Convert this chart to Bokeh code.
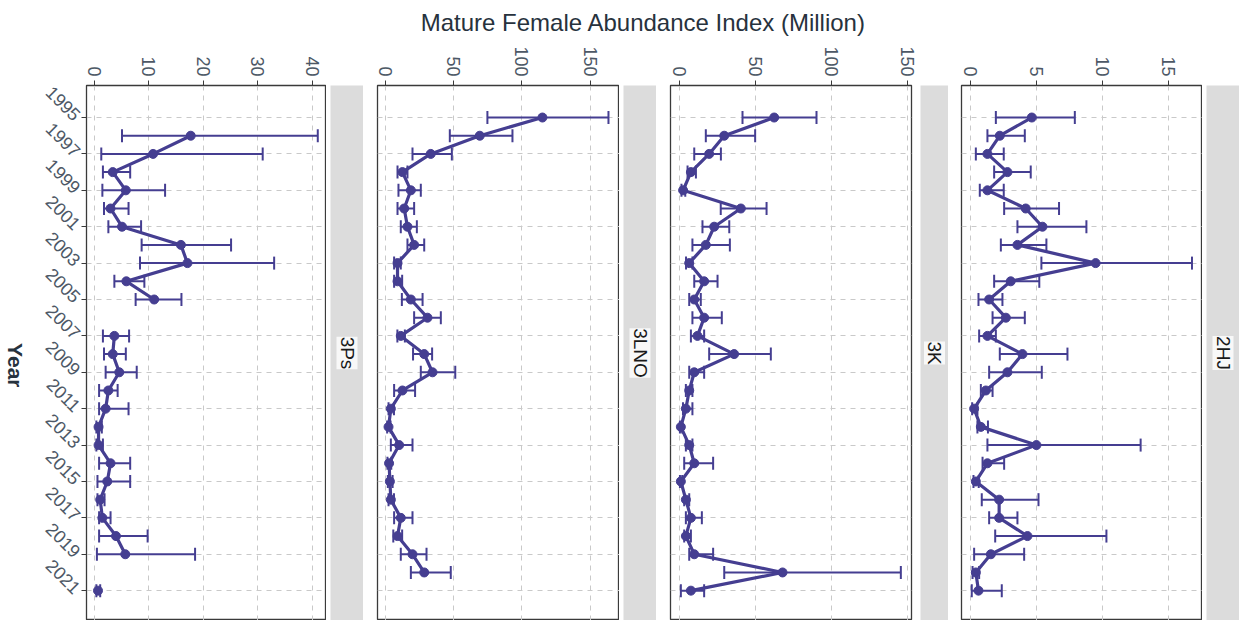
from math import pi, nan, isnan
from bokeh.plotting import figure
from bokeh.models import Range1d, FixedTicker, Whisker, TeeHead, ColumnDataSource, Label
from bokeh.layouts import row, column
from bokeh.embed import file_html
from bokeh.resources import INLINE

years = list(range(1995, 2022))
year_ticks = list(range(1995, 2022, 2))

# 3Ps
ps_val = [nan, 17.7, 10.8, 3.4, 5.8, 3.0, 5.1, 15.9, 17.1, 5.9, 11.0, nan, 3.7, 3.4, 4.6, 2.6, 2.1, 0.8, 0.8, 3.0, 2.4, 1.1, 1.5, 4.0, 5.7, nan, 0.7]
ps_lo = [nan, 5.1, 1.3, 1.6, 1.5, 1.8, 2.6, 8.7, 8.4, 3.7, 7.6, nan, 1.6, 1.8, 2.1, 0.9, 0.9, 0.4, 0.4, 0.9, 0.6, 0.6, 0.9, 0.9, 0.5, nan, 0.4]
ps_hi = [nan, 41.0, 30.9, 6.6, 13.0, 6.3, 8.6, 25.1, 33.0, 9.2, 16.0, nan, 6.4, 5.8, 7.8, 4.3, 6.3, 1.4, 1.6, 6.6, 6.6, 1.9, 3.0, 9.8, 18.5, nan, 1.1]

# 3LNO
lno_val = [115, 69, 33, 12.2, 18.4, 13.5, 15.9, 20.8, 8.6, 8.6, 18.4, 30.6, 11, 28.2, 34.3, 12.2, 3.7, 2.0, 9.8, 2.4, 3.0, 3.7, 11, 8.6, 19.6, 28.2, nan]
lno_lo = [74.6, 47, 19.6, 8.6, 9.3, 8.6, 11, 15.9, 6.1, 6.1, 11.8, 20.8, 8.5, 20.0, 25.7, 6.1, 2.0, 1.0, 3.7, 1.2, 1.5, 2.0, 6.1, 5.5, 11, 18.4, nan]
lno_hi = [163.5, 93, 48.5, 15.9, 25.7, 20.8, 22.8, 28.2, 11, 12, 27, 40.4, 14, 34.0, 51, 21.5, 6.0, 3.5, 19.6, 4.0, 5.0, 6.0, 19.6, 12, 29.9, 47.7, nan]

# 3K
k_val = [62.4, 29.6, 19.7, 7.7, 2.6, 40.5, 23, 17.5, 6.6, 16.4, 9.9, 16.4, 12, 36.1, 9.9, 6.6, 4.4, 1.1, 6.6, 9.9, 1.1, 4.4, 7.7, 4.4, 9.9, 67.9, 7.7]
k_lo = [41.6, 17.5, 9.9, 5.5, 1.5, 27.3, 15.3, 8.7, 4.5, 9.9, 6.6, 8.7, 7.7, 19.7, 6.6, 4.4, 2.5, 0.5, 4.4, 3.3, 0.5, 3.3, 4.4, 3.3, 6.6, 29.6, 1.1]
k_hi = [90.2, 49.9, 27.4, 11, 4.0, 57.4, 32.9, 33.3, 8.7, 25.2, 14.2, 28, 16.4, 60.2, 16.4, 8.7, 8.7, 2.0, 8.7, 22.3, 2.0, 6.6, 14.9, 7.7, 22.3, 145.6, 16.4]

# 2HJ
hj_val = [4.63, 2.2, 1.26, 2.78, 1.26, 4.17, 5.44, 3.54, 9.48, 3.03, 1.39, 2.66, 1.26, 3.92, 2.78, 1.14, 0.25, 0.76, 4.98, 1.26, 0.38, 2.15, 2.15, 4.3, 1.52, 0.38, 0.58]
hj_lo = [1.9, 1.26, 0.38, 1.77, 0.68, 2.53, 3.54, 2.28, 5.36, 1.77, 0.58, 1.65, 0.63, 2.2, 1.39, 0.76, 0.1, 0.5, 1.26, 0.89, 0.2, 0.83, 1.39, 1.85, 0.25, 0.13, 0.07]
hj_hi = [7.9, 4.1, 2.5, 4.55, 2.5, 6.7, 8.78, 5.74, 16.8, 5.2, 2.4, 4.1, 1.9, 7.34, 5.39, 1.65, 0.5, 1.3, 12.9, 2.53, 0.6, 5.14, 3.54, 10.3, 4.05, 0.63, 2.35]

panel_names = ["3Ps", "3LNO", "3K", "2HJ"]
ps_ticks = [0, 10, 20, 30, 40]
lno_ticks = [0, 50, 100, 150]
k_ticks = [0, 50, 100, 150]
hj_ticks = [0, 5, 10, 15]

LINE = "#453e91"
TICK_COLOR = "#4d5866"
TITLE_COLOR = "#27323d"
FONT = "Liberation Sans"
FRAME_H = 535
TOP = 42
TOTAL_W = 1237


def base_fig(frame_w, ml, mr=0, **kw):
    return figure(frame_width=frame_w, frame_height=FRAME_H,
                  output_backend="svg", toolbar_location=None,
                  min_border_left=ml, min_border_right=mr, min_border_top=TOP, min_border_bottom=0,
                  border_fill_color="white", **kw)


def make_panel(vals, lo, hi, xr, ticks, frame_w, ml, mr=0, first=False):
    p = base_fig(frame_w, ml, mr,
                 x_range=Range1d(*xr), y_range=Range1d(2022.64, 1993.24),
                 x_axis_location="above", y_axis_location="left" if first else None,
                 background_fill_color="white",
                 outline_line_color="#3a3a3a", outline_line_width=1.3)
    xa = p.xaxis[0]
    xa.ticker = FixedTicker(ticks=ticks)
    xa.major_label_orientation = -pi / 2
    xa.major_label_text_font = FONT
    xa.major_label_text_font_size = "18px"
    xa.major_label_text_color = TICK_COLOR
    xa.major_label_standoff = 4
    xa.major_tick_out = 5
    xa.major_tick_in = 0
    xa.minor_tick_out = 0
    xa.minor_tick_in = 0
    xa.axis_line_color = "#3a3a3a"
    xa.major_tick_line_color = "#3a3a3a"
    if first:
        ya = p.yaxis[0]
        ya.ticker = FixedTicker(ticks=year_ticks)
        ya.major_label_orientation = -pi / 4
        ya.major_label_text_font = FONT
        ya.major_label_text_font_size = "18px"
        ya.major_label_text_color = TICK_COLOR
        ya.major_label_standoff = 4
        ya.major_tick_out = 5
        ya.major_tick_in = 0
        ya.minor_tick_out = 0
        ya.minor_tick_in = 0
        ya.axis_line_color = "#3a3a3a"
        ya.major_tick_line_color = "#3a3a3a"
    p.xgrid.ticker = FixedTicker(ticks=ticks)
    p.ygrid.ticker = FixedTicker(ticks=year_ticks)
    for g in (p.xgrid, p.ygrid):
        g.grid_line_color = "#c9c9c9"
        g.grid_line_dash = "5 5"
        g.grid_line_width = 1

    yy = [y for y, v in zip(years, vals) if not isnan(v)]
    vv = [v for v in vals if not isnan(v)]
    ll = [a for a, v in zip(lo, vals) if not isnan(v)]
    hh = [b for b, v in zip(hi, vals) if not isnan(v)]
    src = ColumnDataSource(dict(year=yy, val=vv, lo=ll, hi=hh))
    w = Whisker(base="year", lower="lo", upper="hi", source=src, dimension="width",
                line_color=LINE, line_width=2,
                upper_head=TeeHead(size=13, line_color=LINE, line_width=2),
                lower_head=TeeHead(size=13, line_color=LINE, line_width=2))
    p.add_layout(w)
    p.line(x=vals, y=years, line_color=LINE, line_width=3.2)
    p.scatter(x="val", y="year", source=src, size=9, fill_color=LINE, line_color=LINE)
    return p


def make_strip(name, ml, fw):
    s = base_fig(fw, ml, x_range=Range1d(0, 1), y_range=Range1d(0, 1),
                 x_axis_location=None, y_axis_location=None,
                 background_fill_color="#dcdcdc", outline_line_color=None)
    s.grid.visible = False
    s.add_layout(Label(x=0.5, y=0.5, text=name, angle=-pi / 2, text_align="center",
                       text_baseline="middle", text_font=FONT, text_font_size="19px",
                       text_color="#1a1a1a", background_fill_color="white",
                       background_fill_alpha=0.8))
    return s


# "Year" axis title column
yf = base_fig(36, 0, x_range=Range1d(0, 1), y_range=Range1d(0, 1),
              x_axis_location=None, y_axis_location=None,
              background_fill_color="white", outline_line_color=None)
yf.grid.visible = False
yf.add_layout(Label(x=0.42, y=0.477, text="Year", angle=-pi / 2, text_align="center",
                    text_baseline="middle", text_font=FONT, text_font_size="21px",
                    text_font_style="bold", text_color=TITLE_COLOR))

p1 = make_panel(ps_val, ps_lo, ps_hi, (-1.41, 42.6), ps_ticks, 240, 48, first=True)
s1 = make_strip(panel_names[0], 4, 33)
p2 = make_panel(lno_val, lno_lo, lno_hi, (-6.1, 171.6), lno_ticks, 242, 14)
s2 = make_strip(panel_names[1], 4, 33)
p3 = make_panel(k_val, k_lo, k_hi, (-5.7, 152.6), k_ticks, 241, 14, mr=9)
s3 = make_strip(panel_names[2], 0, 28)
p4 = make_panel(hj_val, hj_lo, hj_hi, (-0.71, 17.6), hj_ticks, 241, 13)
s4 = make_strip(panel_names[3], 4, 33)

tf = figure(width=TOTAL_W, height=43, x_range=Range1d(0, 1), y_range=Range1d(0, 1),
            x_axis_location=None, y_axis_location=None, output_backend="svg", toolbar_location=None,
            min_border=0, outline_line_color=None)
tf.grid.visible = False
tf.add_layout(Label(x=643 / TOTAL_W, y=0.49, text="Mature Female Abundance Index (Million)",
                    text_align="center", text_baseline="middle", text_font=FONT,
                    text_font_size="24px", text_color=TITLE_COLOR))

layout = column(tf, row(yf, p1, s1, p2, s2, p3, s3, p4, s4))
open("out.html", "w").write(file_html(layout, INLINE))
